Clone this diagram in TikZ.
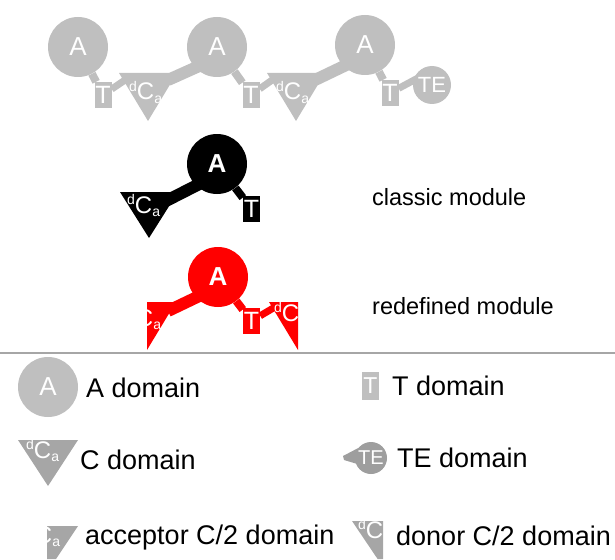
\documentclass[tikz,border=0pt]{standalone}
\usepackage{fontspec}
\setmainfont{Liberation Sans}
\usetikzlibrary{backgrounds,calc}
\definecolor{lg}{RGB}{191,191,191}
\definecolor{dg}{RGB}{166,166,166}
\definecolor{tg}{RGB}{158,158,158}
\definecolor{sepc}{RGB}{166,166,166}
\newcommand\supd{\raisebox{9pt}{\fontsize{14}{14}\selectfont d}}
\newcommand\suba{\raisebox{-3pt}{\fontsize{14}{14}\selectfont a}}
\newcommand\mydca{{\fontsize{24}{24}\selectfont\supd C\suba}}
\begin{document}
\begin{tikzpicture}[x=1pt,y=-1pt,
  domA/.style={circle,fill=#1,minimum size=60pt,inner sep=0pt,text=white,font=\fontsize{26}{26}\selectfont},
  domT/.style={rectangle,fill=#1,minimum width=17pt,minimum height=26pt,inner sep=0pt,text=white,font=\fontsize{25}{25}\selectfont},
  domTE/.style={circle,fill=#1,minimum size=38pt,inner sep=0pt,text=white,font=\fontsize{22}{22}\selectfont},
  ctext/.style={anchor=base west,inner sep=0pt,text=white},
  conn/.style={line width=#1},
  legtext/.style={anchor=west,inner sep=0pt,font=\fontsize{27}{27}\selectfont},
  modtext/.style={anchor=west,inner sep=0pt,font=\fontsize{23.5}{23.5}\selectfont}
]
\useasboundingbox (0,0) rectangle (615,559);

% ---------- top row (gray) ----------
\node[domA=lg] (A1) at (78,47) {A};
\node[domT=lg] (T1) at (103,95) {T};
\fill[lg] (119,73) -- (177,73) -- (148,121) -- cycle;
\node[ctext] (C1) at (129,100) {\mydca};
\node[domA=lg] (A2) at (217,47) {A};
\node[domT=lg] (T2) at (251,95) {T};
\fill[lg] (267,73) -- (325,73) -- (296,121) -- cycle;
\node[ctext] (C2) at (276,100) {\mydca};
\node[domA=lg] (A3) at (365,45) {A};
\node[domT=lg] (T3) at (390,93) {T};
\node[domTE=lg] (TE) at (432,85) {TE};
\coordinate (C1in) at (128,78);
\coordinate (C1out) at (168,80);
\coordinate (A2in) at (217,58);
\coordinate (C2in) at (275,78);
\coordinate (C2out) at (315,80);
\coordinate (A3in) at (365,56);
\coordinate (TEin) at (418,78);

% ---------- classic module (black) ----------
\node[domA=black,font=\fontsize{26}{26}\selectfont\bfseries] (Ab) at (217,164) {A};
\node[domT=black] (Tb) at (251.5,209) {T};
\fill[black] (120,192) -- (178,192) -- (149,238) -- cycle;
\node[ctext] (Cb) at (127,213) {\mydca};
\coordinate (Cbout) at (166,201);
\coordinate (Abin) at (217,175);
\node[modtext] (lclassic) at (372,197) {classic module};

% ---------- redefined module (red) ----------
\node[domA=red,font=\fontsize{26}{26}\selectfont\bfseries] (Ar) at (218,277) {A};
\node[domT=red] (Tr) at (251.5,321) {T};
\begin{scope}
  \fill[red] (147,302) -- (176,302) -- (147,350) -- cycle;
  \clip (147,302) -- (176,302) -- (147,350) -- cycle;
  \node[ctext] (Cra) at (128,326) {\mydca};
\end{scope}
\begin{scope}
  \fill[red] (269,302) -- (298,302) -- (298,350) -- cycle;
  \clip (269,302) -- (298,302) -- (298,350) -- cycle;
  \node[ctext] (Crd) at (274,321) {\mydca};
\end{scope}
\coordinate (Craout) at (168,311);
\coordinate (Arin) at (218,287);
\coordinate (Crdin) at (275,307);
\node[modtext] (lredef) at (372,306) {redefined module};

% ---------- connectors ----------
\begin{pgfonlayer}{background}
  \draw[lg,conn=8] (A1) -- (T1);
  \draw[lg,conn=7] (T1) -- (C1in);
  \draw[lg,conn=12] (C1out) -- (A2in);
  \draw[lg,conn=8] (A2) -- (T2);
  \draw[lg,conn=7] (T2) -- (C2in);
  \draw[lg,conn=12] (C2out) -- (A3in);
  \draw[lg,conn=8] (A3) -- (T3);
  \draw[lg,conn=7] (T3) -- (TEin);
  \draw[black,conn=12] (Cbout) -- (Abin);
  \draw[black,conn=8] (Ab) -- (Tb);
  \draw[red,conn=12] (Craout) -- (Arin);
  \draw[red,conn=8] (Ar) -- (Tr);
  \draw[red,conn=7] (Tr) -- (Crdin);
\end{pgfonlayer}

% ---------- separator ----------
\coordinate (sepL) at (0,353);
\coordinate (sepR) at (615,353);
\draw[sepc,line width=1.5pt] (sepL) -- (sepR);

% ---------- legend ----------
\node[domA=lg] (LA) at (48,387) {A};
\node[legtext] (tA) at (86,388) {A domain};

\node[domT=lg,minimum height=28pt,font=\fontsize{23}{23}\selectfont] (LT) at (370.5,385.5) {T};
\node[legtext] (tT) at (392,386) {T domain};

\fill[dg] (18,440) -- (78,440) -- (48,486) -- cycle;
\node[ctext] (LC) at (26,458) {\mydca};
\node[legtext] (tC) at (80,460) {C domain};

\fill[tg] (343,456) -- (364,445) -- (364,466) -- (344,460) -- cycle;
\node[domTE=tg,minimum size=32pt,font=\fontsize{20}{20}\selectfont] (LTE) at (371,458) {TE};
\node[legtext] (tTE) at (397,458) {TE domain};

\begin{scope}
  \fill[dg] (47,526) -- (78,526) -- (56,559) -- (47,559) -- cycle;
  \clip (47,526) -- (78,526) -- (56,559) -- (47,559) -- cycle;
  \node[ctext] (LCa) at (27,543) {\mydca};
\end{scope}
\node[legtext] (tCa) at (85,538) {acceptor C/2 domain};

\begin{scope}
  \fill[dg] (352,521) -- (383,521) -- (383,559) -- (377.6,559) -- cycle;
  \clip (352,521) -- (383,521) -- (383,559) -- (377.6,559) -- cycle;
  \node[ctext] (LCd) at (358,538) {\mydca};
\end{scope}
\node[legtext] (tCd) at (396,536) {donor C/2 domain};
\end{tikzpicture}
\end{document}
